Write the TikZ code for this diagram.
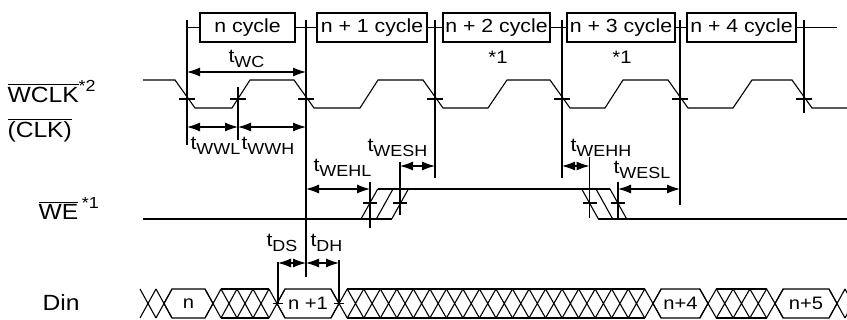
\documentclass[tikz,border=0pt]{standalone}
\usepackage{fontspec}
\setmainfont{Liberation Sans}[FakeStretch=1.12]
\usetikzlibrary{arrows.meta}

% t with its subscript, as the chart prints it
\newcommand\tlbl[1]{t\raisebox{-2.5pt}{\fontsize{8}{8}\selectfont #1}}
% active low signal name
\newcommand\lowsig[1]{$\overline{\mbox{#1}}$}
\newcommand\fnote[1]{\raisebox{5.5pt}{\fontsize{8}{8}\selectfont *#1}}

\begin{document}
\begin{tikzpicture}[
    x = 0.5pt, y = -0.5pt,
    line width = 0.55pt,
    > = {Latex[length=6.5pt, width=4.5pt]},
    font = \fontsize{9.5}{11}\selectfont,
    % the boxes naming each cycle
    cycbox/.style = {draw, minimum height = 14.5pt, minimum width = 54pt, inner sep = 1pt},
    dimline/.style = {<->},
    tlabel/.style = {anchor = base west, inner sep = 0pt},
    signame/.style = {anchor = base west, inner sep = 0pt,
      font = \fontsize{11}{13}\selectfont},
    buslabel/.style = {inner sep = 0pt, font = \fontsize{9}{11}\selectfont},
    ]

    \useasboundingbox (0,0) rectangle (847,320);

    % cycle borders, at the falling edges of WCLK
    \coordinate (c0) at (187, 20);
    \coordinate (c1) at (306, 20);
    \coordinate (c2) at (435, 20);
    \coordinate (c3) at (562, 20);
    \coordinate (c4) at (680, 20);
    \coordinate (c5) at (804, 20);
    \draw (c0) -- (c0 |- 0,145);
    \draw (c1) -- (c1 |- 0,277);
    \draw (c2) -- (c2 |- 0,178);
    \draw (c3) -- (c3 |- 0,178);
    \draw (c4) -- (c4 |- 0,205);
    \draw (c5) -- (c5 |- 0,113);

    % cycle names on top
    \node[cycbox, minimum width = 47.5pt] (cyc0) at (247.5, 27.5) {n cycle};
    \node[cycbox, minimum width = 55pt]   (cyc1) at (372, 27.5) {n + 1 cycle};
    \node[cycbox, minimum width = 53.5pt] (cyc2) at (496.5, 27.5) {n + 2 cycle};
    \node[cycbox]                         (cyc3) at (621, 27.5) {n + 3 cycle};
    \node[cycbox, minimum width = 54.5pt] (cyc4) at (741.5, 27.5) {n + 4 cycle};
    \coordinate (cend) at (837, 27.5);
    \draw (c0 |- cyc0.west) -- (cyc0.west);
    \draw (cyc0.east) -- (cyc1.west);
    \draw (cyc1.east) -- (cyc2.west);
    \draw (cyc2.east) -- (cyc3.west);
    \draw (cyc3.east) -- (cyc4.west);
    \draw (cyc4.east) -- (cend);
    \node[font = \fontsize{9}{11}\selectfont] (note2) at (498, 57) {*1};
    \node[font = \fontsize{9}{11}\selectfont] (note3) at (622, 57) {*1};

    % signal names
    \node[signame] (wclk) at (7, 103) {\lowsig{WCLK}\fnote{2}};
    \node[signame] (clk)  at (7, 138) {\lowsig{(CLK)}};
    \node[signame] (we)   at (38, 220) {\lowsig{WE}\,\fnote{1}};
    \node[signame] (din)  at (42, 311) {Din};

    % WCLK
    \draw (143,80) -- (175,80) -- (195,108) -- (232,108) -- (250,80) -- (294,80)
      -- (314,108) -- (360,108) -- (378,80) -- (423,80) -- (443,108) -- (488,108)
      -- (507,80) -- (550,80) -- (570,108) -- (605,108) -- (623,80) -- (668,80)
      -- (688,108) -- (733,108) -- (752,80) -- (792,80) -- (812,108) -- (847,108);
    \coordinate (r0) at (238, 87);
    \draw (r0) -- (r0 |- 0,140);
    \foreach \xt in {187, 238, 306, 435, 562, 680, 804}
      \draw (\xt-8, 99) -- (\xt+8, 99);

    \draw[dimline] (c0 |- 0,72) -- (c1 |- 0,72);
    \node[tlabel] (twc) at (228, 63) {\tlbl{WC}};
    \draw[dimline] (c0 |- 0,127) -- (r0 |- 0,127);
    \draw[dimline] (r0 |- 0,127) -- (c1 |- 0,127);
    \node[tlabel] (twwl) at (190, 150) {\tlbl{WWL}};
    \node[tlabel] (twwh) at (241, 150) {\tlbl{WWH}};

    % WE, with its uncertain rising and falling windows
    \draw (143,219) -- (391.7,219);
    \draw (377.7,189) -- (610,189);
    \draw (598.4,219) -- (847,219);
    \foreach \xb in {361, 376.3, 391.7}
      \draw (\xb,219) -- ++(16.7,-30);
    \foreach \xb in {581.7, 596, 610}
      \draw (\xb,189) -- ++(16.7,30);
    \coordinate (wel) at (370, 182);
    \coordinate (wes) at (400, 162);
    \coordinate (weh) at (589.5, 157);
    \coordinate (wesl) at (618, 182);
    \draw (wel) -- (wel |- 0,228);
    \draw (wes) -- (wes |- 0,215);
    \draw (weh) -- (weh |- 0,218);
    \draw (wesl) -- (wesl |- 0,219);
    \foreach \xt in {370, 400, 589.5, 618}
      \draw (\xt-7, 203) -- (\xt+7, 203);

    \draw[dimline] (c1 |- 0,189) -- (wel |- 0,189);
    \node[tlabel] (twehl) at (313, 172) {\tlbl{WEHL}};
    \draw[dimline] (wes |- 0,166) -- (c2 |- 0,166);
    \node[tlabel] (twesh) at (367, 152) {\tlbl{WESH}};
    \draw[dimline] (c3 |- 0,166) -- (weh |- 0,166);
    \node[tlabel] (twehh) at (570, 152) {\tlbl{WEHH}};
    \draw[dimline] (wesl |- 0,189) -- (c4 |- 0,189);
    \node[tlabel] (twesl) at (613, 174) {\tlbl{WESL}};

    % Din bus
    \def\dtop{289}
    \def\dbot{318}
    \def\dmid{303.5}
    \def\hb{8}
    % one valid word between two crossings
    \def\busword#1#2#3#4{
      \draw ({#2},\dmid) -- ({#2+\hb},\dtop) -- ({#3-\hb},\dtop) -- ({#3},\dmid)
        -- ({#3-\hb},\dbot) -- ({#2+\hb},\dbot) -- cycle;
      \node[buslabel] (#1) at ({(#2+#3)/2},\dmid) {#4};
    }
    % don't care stretch
    \def\buscross#1#2#3{
      \pgfmathsetmacro\xstep{(#2-#1)/#3}
      \draw ({#1+\xstep/2},\dtop) -- ({#2-\xstep/2},\dtop)
        ({#1+\xstep/2},\dbot) -- ({#2-\xstep/2},\dbot);
      \foreach \k in {0,...,#3}{
        \pgfmathsetmacro\xc{#1+\k*\xstep}
        \draw ({\xc-\xstep/2},\dtop) -- ({\xc+\xstep/2},\dbot)
          ({\xc-\xstep/2},\dbot) -- ({\xc+\xstep/2},\dtop);
      }
    }
    \buscross{148}{164}{1}
    \busword{dn}{164}{213}{n}
    \buscross{213}{277}{4}
    \busword{dn1}{277}{339}{n +1}
    \buscross{339}{653}{19}
    \busword{dn4}{653}{708}{n+4}
    \buscross{708}{775}{4}
    \busword{dn5}{775}{837}{n+5}
    \buscross{837}{853}{1}

    \coordinate (ds) at (278, 262);
    \coordinate (dh) at (339, 260);
    \draw (ds) -- (ds |- 0,303.5);
    \draw (dh) -- (dh |- 0,303.5);
    \foreach \xt in {278, 339}
      \draw (\xt-5, 303.5) -- (\xt+5, 303.5);
    \draw[dimline] (ds |- 0,263) -- (c1 |- 0,263);
    \draw[dimline] (c1 |- 0,263) -- (dh |- 0,263);
    \node[tlabel] (tds) at (266, 247) {\tlbl{DS}};
    \node[tlabel] (tdh) at (310, 247) {\tlbl{DH}};

\end{tikzpicture}
\end{document}
